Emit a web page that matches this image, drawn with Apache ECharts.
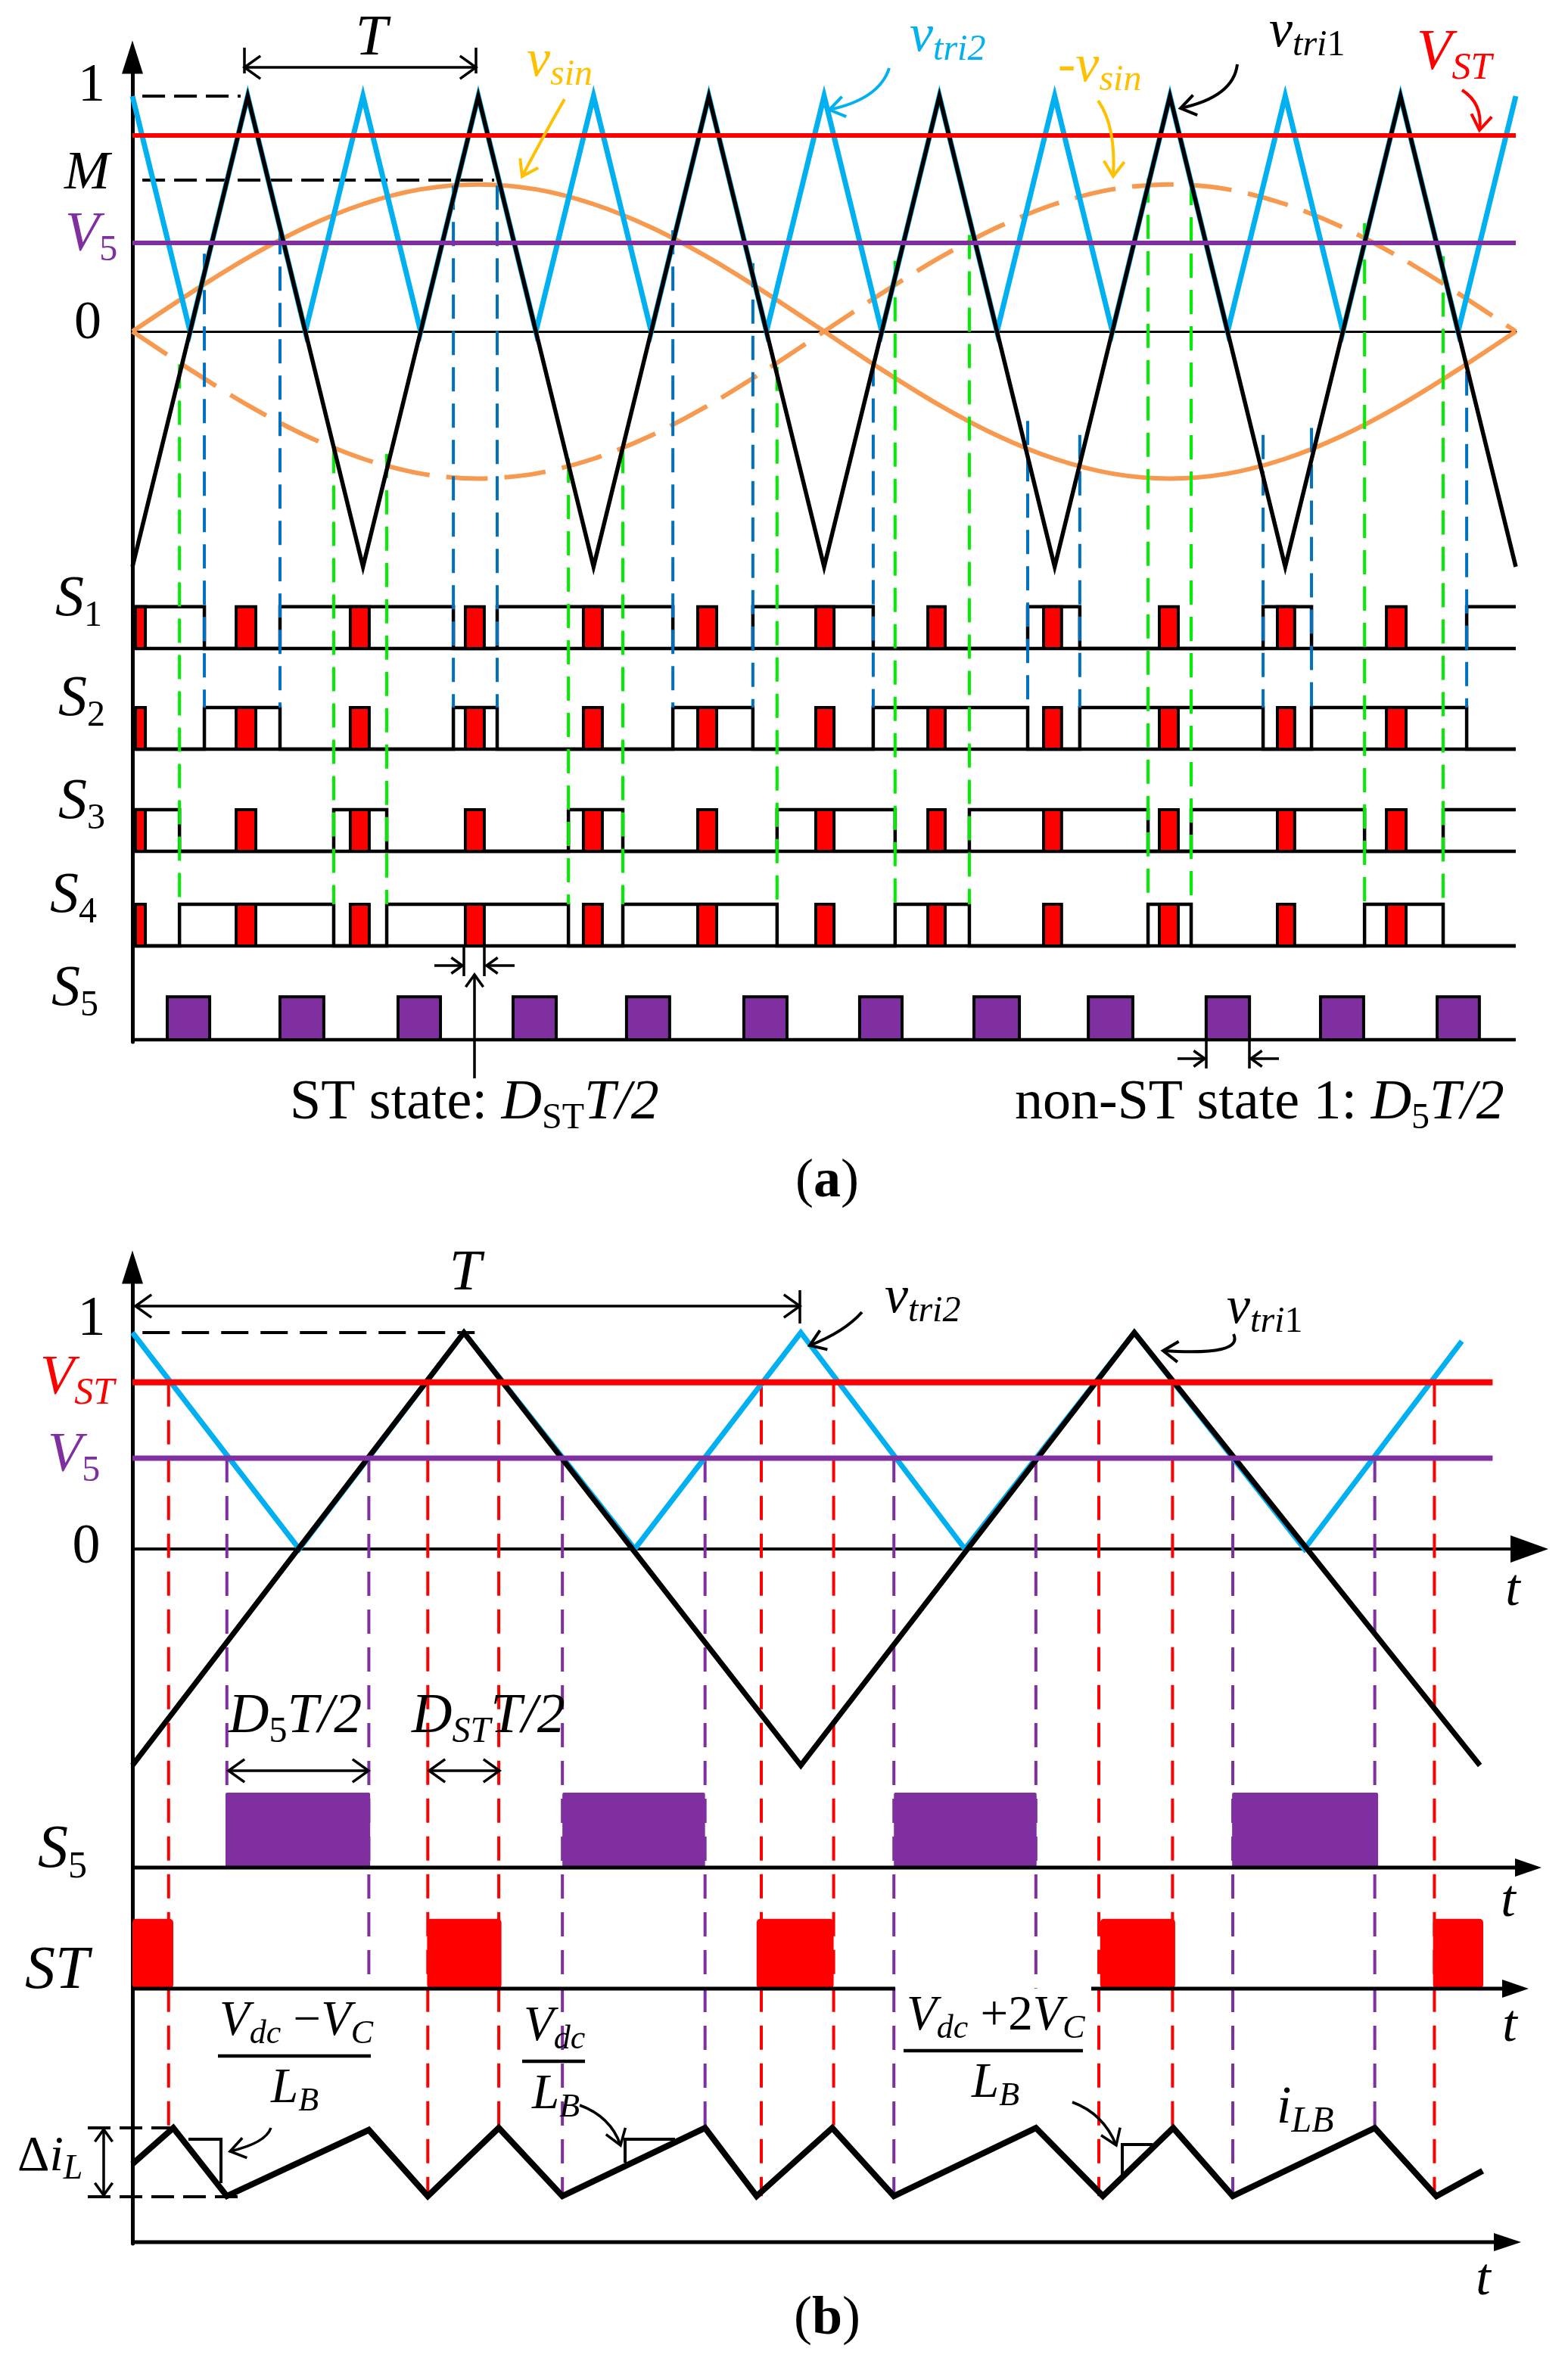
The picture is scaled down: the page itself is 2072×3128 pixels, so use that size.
<!DOCTYPE html>
<html><head><meta charset="utf-8">
<script src="https://cdn.jsdelivr.net/npm/echarts@6/dist/echarts.min.js"></script>
<style>html,body{margin:0;padding:0;background:#fff}#c{width:2072px;height:3128px}</style>
</head><body><div id="c"></div>
<script>
// ================= DATA : panel (a) (time in carrier periods T) =================
const TRI1_T = [0,0.5,1,1.5,2,2.5,3,3.5,4,4.5,5,5.5,6];
const TRI1_V = [-1,1,-1,1,-1,1,-1,1,-1,1,-1,1,-1];
const TRI2_T = [0,0.25,0.5,0.75,1,1.25,1.5,1.75,2,2.25,2.5,2.75,3,3.25,3.5,3.75,4,4.25,4.5,4.75,5,5.25,5.5,5.75,6];
const TRI2_V = [1,0,1,0,1,0,1,0,1,0,1,0,1,0,1,0,1,0,1,0,1,0,1,0,1];
const SIN_T  = [0,0.25,0.5,0.75,1,1.25,1.5,1.75,2,2.25,2.5,2.75,3,3.25,3.5,3.75,4,4.25,4.5,4.75,5,5.25,5.5,5.75,6];
const VSIN   = [0,0.162,0.313,0.442,0.541,0.604,0.625,0.604,0.541,0.442,0.313,0.162,0,-0.162,-0.313,-0.442,-0.541,-0.604,-0.625,-0.604,-0.541,-0.442,-0.313,-0.162,0];
const NVSIN  = [0,-0.162,-0.313,-0.442,-0.541,-0.604,-0.625,-0.604,-0.541,-0.442,-0.313,-0.162,0,0.162,0.313,0.442,0.541,0.604,0.625,0.604,0.541,0.442,0.313,0.162,0];
const VST_A = 0.833, V5_A = 0.376, M_A = 0.643;
// switching edges (S1 / S2 complementary, S3 / S4 complementary)
const S1_EDGES = [0.312,0.640,1.392,1.582,2.344,2.691,3.213,3.883,4.109,4.904,5.114,5.787];
const S1_START = 1, S2_START = 0;
const S3_EDGES = [0.204,0.873,1.103,1.891,2.127,2.796,3.308,3.630,4.405,4.592,5.344,5.685];
const S3_START = 1, S4_START = 0;
// shoot-through pulses (red) and S5 pulses (purple)
const ST_ON_A  = [0.013,0.450,0.945,1.444,1.956,2.452,2.964,3.450,3.952,4.454,4.966,5.439];
const ST_OFF_A = [0.056,0.535,1.027,1.526,2.038,2.534,3.043,3.525,4.030,4.536,5.041,5.524];
const S5_ON_A  = [0.151,0.640,1.152,1.651,2.143,2.652,3.154,3.650,4.146,4.657,5.153,5.659];
const S5_OFF_A = [0.335,0.830,1.336,1.838,2.330,2.839,3.338,3.847,4.339,4.845,5.340,5.842];
// start level of the projection lines (blue at S1 edges, green at S3 edges)
const BLUE_TOP  = [0.33,0.43,0.62,0.62,0.43,0.29,-0.13,-0.38,-0.44,-0.44,-0.41,-0.17];
const GREEN_TOP = [-0.14,-0.50,-0.52,-0.54,-0.50,-0.15,0.30,0.41,0.65,0.64,0.46,0.32];

// ================= DATA : panel (b) =================
const TRI1_B_T = [0,0.495,0.998,1.496,2.012];
const TRI1_B_V = [-1,1,-1,1,-1];
const TRI2_B_T = [0,0.249,0.495,0.750,0.998,1.243,1.496,1.750,1.985];
const TRI2_B_V = [1,0,1,0,1,0,1,0,0.96];
const VST_B = 0.77, V5_B = 0.42;
const RED_B_T = [0.054,0.441,0.547,0.939,1.047,1.443,1.553,1.944];
const PUR_B_T = [0.141,0.353,0.642,0.855,1.137,1.349,1.643,1.855];
const PUR_B_END = ['S5','ST','I','I','I','ST','I','I'];
const S5_ON_B  = [0.139,0.642,1.137,1.642];
const S5_OFF_B = [0.355,0.855,1.350,1.860];
const ST_ON_B  = [0,0.440,0.932,1.445,1.942];
const ST_OFF_B = [0.061,0.551,1.047,1.557,2.017];
const ILB_T = [0,0.061,0.141,0.353,0.441,0.547,0.642,0.855,0.932,1.045,1.137,1.349,1.449,1.554,1.643,1.855,1.947,2.016];
const ILB_V = [0.47,1,0,0.97,0,1,0,1,0,1,0,1,0,1,0,1,0,0.37];

// ================= LAYOUT / STYLE =================
const ORANGE='#F79A50', YEL='#FFC000', BLUE='#00B0F0', DBLUE='#0070C0', GREEN='#00EE00', RED='#FF0000', PUR='#7F2FA0';
const FF='"Liberation Serif","Times New Roman",serif';
const LA = {left:175, top:75.5, bottom:1377, zero:438, unit:311, tMax:6};
const LB = {left:175, top:1674.5, bottom:2965, zero:2047, unit:286, tMax:2.0859};
[LA, LB].forEach(L => { L.yMax=(L.zero-L.top)/L.unit; L.yMin=(L.zero-L.bottom)/L.unit; L.w=(L===LA?1828:1846); });
const ROWS_A = [{base:-1.347,amp:0.177},{base:-1.775,amp:0.177},{base:-2.209,amp:0.177},{base:-2.611,amp:0.177},{base:-3.010,amp:0.183}];
const ROWS_B = {S5:{base:-1.472,amp:0.346}, ST:{base:-2.031,amp:0.322}, I:{base:-2.990,amp:0.315}};
const REF_A = [[0.043,0.469,1],[0.043,1.569,M_A]];
const REF_B = [[0.015,0.511,1]];

const zip = (ts, vs) => ts.map((t,i)=>[t, vs[i]]);
function lineS(ax, data, color, width, z, extra){
  return Object.assign({type:'line', xAxisIndex:ax, yAxisIndex:ax, data, symbol:'none', silent:true, z,
    animation:false, lineStyle:{color, width, cap:'butt', join:'miter'}}, extra||{});
}
function stepData(edges, start, row, tEnd){
  const lv = s => row.base + s*row.amp;
  const d=[[0, lv(start)]]; let s=start;
  edges.forEach(e => { s=1-s; d.push([e, lv(s)]); });
  d.push([tEnd, lv(s)]);
  return d;
}
function vDash(ax, data, color, dash, z){
  return {type:'custom', coordinateSystem:'cartesian2d', xAxisIndex:ax, yAxisIndex:ax, silent:true, z, animation:false,
    data, renderItem:(p, api) => {
      const a = api.coord([api.value(0), api.value(1)]), b = api.coord([api.value(0), api.value(2)]);
      return {type:'line', shape:{x1:a[0],y1:a[1],x2:b[0],y2:b[1]}, style:{stroke:color, lineWidth:4, lineDash:dash}};
    }};
}
function hDash(ax, data, dash){
  return {type:'custom', coordinateSystem:'cartesian2d', xAxisIndex:ax, yAxisIndex:ax, silent:true, z:4, animation:false,
    data, renderItem:(p, api) => {
      const a = api.coord([api.value(0), api.value(2)]), b = api.coord([api.value(1), api.value(2)]);
      return {type:'line', shape:{x1:a[0],y1:a[1],x2:b[0],y2:b[1]}, style:{stroke:'#000', lineWidth:4, lineDash:dash}};
    }};
}
function boxes(ax, data, rowsFn, fill, stroke, r, z){
  return {type:'custom', coordinateSystem:'cartesian2d', xAxisIndex:ax, yAxisIndex:ax, silent:true, z, animation:false,
    data, renderItem:(p, api) => {
      const row = rowsFn(api.value(2));
      const a = api.coord([api.value(0), row.base+row.amp]), b = api.coord([api.value(1), row.base]);
      return {type:'rect', shape:{x:a[0], y:a[1], width:b[0]-a[0], height:b[1]-a[1], r:r||0},
        style: stroke ? {fill, stroke, lineWidth:4} : {fill}};
    }};
}

const series = [];
// ---- panel (a)
series.push(lineS(0, zip(SIN_T, VSIN), ORANGE, 6, 3, {smooth:0.3}));
series.push(lineS(0, zip(SIN_T, NVSIN), ORANGE, 6, 3, {smooth:0.3, lineStyle:{color:ORANGE, width:6, type:[55,22]}}));
series.push(vDash(0, S1_EDGES.map((t,i)=>[t, BLUE_TOP[i], ROWS_A[1].base+ROWS_A[1].amp]), DBLUE, [32,16], 4));
series.push(vDash(0, S3_EDGES.map((t,i)=>[t, GREEN_TOP[i], ROWS_A[3].base+ROWS_A[3].amp]), GREEN, [32,16], 4));
series.push(lineS(0, zip(TRI2_T, TRI2_V), BLUE, 7, 5));
series.push(lineS(0, zip(TRI1_T, TRI1_V), '#000', 5.5, 6));
series.push(lineS(0, [[0,VST_A],[6,VST_A]], RED, 6, 7));
series.push(lineS(0, [[0,V5_A],[6,V5_A]], PUR, 6, 7));
series.push(hDash(0, REF_A, [30,12]));
ROWS_A.forEach(r => series.push(lineS(0, [[0,r.base],[6,r.base]], '#000', 4.5, 2)));
series.push(lineS(0, stepData(S1_EDGES, S1_START, ROWS_A[0], 6), '#000', 4.5, 2, {step:'end'}));
series.push(lineS(0, stepData(S1_EDGES, S2_START, ROWS_A[1], 6), '#000', 4.5, 2, {step:'end'}));
series.push(lineS(0, stepData(S3_EDGES, S3_START, ROWS_A[2], 6), '#000', 4.5, 2, {step:'end'}));
series.push(lineS(0, stepData(S3_EDGES, S4_START, ROWS_A[3], 6), '#000', 4.5, 2, {step:'end'}));
const stA = [];
[0,1,2,3].forEach(r => ST_ON_A.forEach((t,i) => stA.push([t, ST_OFF_A[i], r])));
series.push(boxes(0, stA, k => ROWS_A[k], RED, '#000', 0, 3));
series.push(boxes(0, S5_ON_A.map((t,i)=>[t, S5_OFF_A[i], 4]), k => ROWS_A[k], PUR, '#000', 0, 3));

// ---- panel (b)
const ilbY = v => ROWS_B.I.base + v*ROWS_B.I.amp;
const nearestIlb = t => { let bi=0; ILB_T.forEach((x,i)=>{ if (Math.abs(x-t) < Math.abs(ILB_T[bi]-t)) bi=i; }); return ILB_V[bi]; };
series.push(vDash(1, RED_B_T.map(t => [t, VST_B, ilbY(nearestIlb(t))]), RED, [32,18], 4));
series.push(vDash(1, PUR_B_T.map((t,i) => {
  const e = PUR_B_END[i];
  const end = e==='S5' ? ROWS_B.S5.base+ROWS_B.S5.amp : e==='ST' ? ROWS_B.ST.base : ilbY(nearestIlb(t));
  return [t, V5_B, end];
}), PUR, [32,18], 4));
series.push(boxes(1, S5_ON_B.map((t,i)=>[t, S5_OFF_B[i], 0]), () => ROWS_B.S5, PUR, null, 2, 5));
series.push(boxes(1, ST_ON_B.map((t,i)=>[t, ST_OFF_B[i], 0]), () => ROWS_B.ST, RED, null, 5, 5));
series.push(lineS(1, zip(TRI2_B_T, TRI2_B_V), BLUE, 7, 5));
series.push(lineS(1, zip(TRI1_B_T, TRI1_B_V), '#000', 7, 6));
series.push(lineS(1, [[0,VST_B],[2.031,VST_B]], RED, 8, 7));
series.push(lineS(1, [[0,V5_B],[2.031,V5_B]], PUR, 7, 7));
series.push(hDash(1, REF_B, [36,16]));
series.push(lineS(1, zip(ILB_T, ILB_V.map(ilbY)), '#000', 8, 6));

// ================= ANNOTATIONS (graphic) =================
const G = [];
const ln = (x1,y1,x2,y2,c,w,dash) => G.push({type:'line', z:100, shape:{x1,y1,x2,y2}, style:Object.assign({stroke:c||'#000', lineWidth:w||3.5}, dash?{lineDash:dash}:{})});
function hd(x,y,dx,dy,c,w,L,ang){
  L=L||26; ang=ang||0.62; const n=Math.hypot(dx,dy), ux=dx/n, uy=dy/n, co=Math.cos(ang), si=Math.sin(ang);
  const b1=[-(ux*co-uy*si), -(ux*si+uy*co)], b2=[-(ux*co+uy*si), -(-ux*si+uy*co)];
  G.push({type:'polyline', z:100, shape:{points:[[x+b1[0]*L,y+b1[1]*L],[x,y],[x+b2[0]*L,y+b2[1]*L]]}, style:{stroke:c||'#000', lineWidth:w||3.5, fill:null}});
}
const arr = (x1,y1,x2,y2,c,w,L) => { ln(x1,y1,x2,y2,c,w); hd(x2,y2,x2-x1,y2-y1,c,w,L); };
const dbl = (x1,y1,x2,y2,c,w,L) => { ln(x1,y1,x2,y2,c,w); hd(x2,y2,x2-x1,y2-y1,c,w,L); hd(x1,y1,x1-x2,y1-y2,c,w,L); };
function curve(sx,sy,cx,cy,ex,ey,c,w){
  G.push({type:'bezierCurve', z:100, shape:{x1:sx,y1:sy,x2:ex,y2:ey,cpx1:cx,cpy1:cy}, style:{stroke:c, lineWidth:w||3.5, fill:null}});
  hd(ex,ey,ex-cx,ey-cy,c,w||3.5,24,0.6);
}
const tri = (tip,y,L,H) => G.push({type:'polygon', z:100, shape:{points:[[tip,y],[tip-L,y-H],[tip-L,y+H]]}, style:{fill:'#000'}});
const poly = (pts,w) => G.push({type:'polyline', z:100, shape:{points:pts}, style:{stroke:'#000', lineWidth:w||4, fill:null}});
const sg = (t,size,o) => Object.assign({t,size}, o||{});
function TX(x,y,segs,align){
  let main=0; segs.forEach(s=>{ if(!s.sub) main=Math.max(main,s.size); }); if(!main) main=segs[0].size;
  const LH=Math.round(main*1.18), rich={}; let text='';
  segs.forEach((s,i)=>{ const k='k'+i;
    rich[k]={font:(s.it?'italic ':'')+(s.bold?'bold ':'')+s.size+'px '+FF, fill:s.c||'#000', lineHeight:s.sub?s.size:LH, verticalAlign:s.sub?'bottom':'middle'};
    text+='{'+k+'|'+s.t+'}'; });
  const a=align||'left';
  G.push({type:'text', z:110, x, y, style:{text, rich, fill:'#000', align:a, verticalAlign:'middle', textAlign:a, textVerticalAlign:'middle'}});
}
const IT={it:1}, SUB={sub:1}, ITS={it:1,sub:1};
const C=(c,o)=>Object.assign({c},o||{});

// ---- panel (a) labels
TX(121,114,[sg('1',72)],'center');
TX(115,230,[sg('M',72,IT)],'center');
TX(86,312,[sg('V',74,C(PUR,IT)),sg('5',48,C(PUR,SUB))]);
TX(116,428,[sg('0',72)],'center');
[[73,793,'1'],[77,925,'2'],[77,1061,'3'],[66,1185,'4'],[68,1308,'5']].forEach(s => TX(s[0],s[1],[sg('S',76,IT),sg(s[2],48,SUB)]));
TX(491,52,[sg('T',76,IT)],'center');
dbl(323,89,629,89); ln(323,63,323,97); ln(629,63,629,97);
TX(696,82,[sg('v',70,C(YEL,IT)),sg('sin',48,C(YEL,ITS))]);
curve(746,131,720,176,690,233,YEL,4);
TX(1202,49,[sg('v',70,C(BLUE,IT)),sg('tri2',48,C(BLUE,ITS))]);
curve(1175,90,1162,131,1096,145,BLUE,4);
TX(1398,89,[sg('-v',70,C(YEL,IT)),sg('sin',48,C(YEL,ITS))]);
curve(1451,133,1475,167,1471,233,YEL,4);
TX(1677,43,[sg('v',70,IT),sg('tri',48,ITS),sg('1',48,SUB)]);
curve(1635,85,1630,128,1560,143,'#000',4);
TX(1872,71,[sg('V',76,C(RED,IT)),sg('ST',50,C(RED,ITS))]);
curve(1932,119,1960,137,1955,172,RED,4);
// ST width markers
ln(613,1250,613,1290); ln(640,1250,640,1290);
arr(574,1276,611,1276,'#000',3.5,18); arr(680,1276,643,1276,'#000',3.5,18);
arr(627,1425,627,1288,'#000',3.5,20);
TX(383,1459,[sg('ST state: ',74),sg('D',74,IT),sg('ST',48,SUB),sg('T/2',74,IT)]);
// non-ST markers
ln(1594,1376,1594,1412); ln(1651,1376,1651,1412);
arr(1556,1399,1592,1399,'#000',3.5,18); arr(1690,1399,1653,1399,'#000',3.5,18);
TX(1341,1459,[sg('non-ST state 1: ',74),sg('D',74,IT),sg('5',48,SUB),sg('T/2',74,IT)]);
TX(1093,1562,[sg('(',72),sg('a',72,{bold:1}),sg(')',72)],'center');

// ---- panel (b) labels
TX(121,1745,[sg('1',74)],'center');
TX(53,1823,[sg('V',74,C(RED,IT)),sg('ST',50,C(RED,ITS))]);
TX(63,1925,[sg('V',74,C(PUR,IT)),sg('5',48,C(PUR,SUB))]);
TX(114,2046,[sg('0',74)],'center');
TX(615,1684,[sg('T',76,IT)],'center');
dbl(179,1726,1057,1726); ln(1057,1705,1057,1749);
TX(1169,1716,[sg('v',70,IT),sg('tri2',48,ITS)]);
curve(1139,1734,1116,1760,1070,1778,'#000',4);
TX(1621,1730,[sg('v',70,IT),sg('tri',48,ITS),sg('1',48,SUB)]);
curve(1630,1763,1644,1792,1537,1785,'#000',4);
TX(1999,2103,[sg('t',70,IT)],'center');
TX(302,2270,[sg('D',74,IT),sg('5',48,SUB),sg('T/2',74,IT)]);
TX(544,2270,[sg('D',74,IT),sg('ST',48,ITS),sg('T/2',74,IT)]);
dbl(302,2340,487,2340); dbl(567,2340,660,2340);
TX(50,2446,[sg('S',80,IT),sg('5',50,SUB)]);
TX(33,2606,[sg('ST',80,IT)]);
// extra time axes of panel (b)
ln(175,2468,2005,2468,'#000',5); tri(2037,2468,35,12);
TX(1993,2514,[sg('t',70,IT)],'center');
ln(175,2628,1183,2628,'#000',5); ln(1442,2628,1988,2628,'#000',5); tri(2020,2628,35,12);
TX(1995,2679,[sg('t',70,IT)],'center');
ln(175,2963,1977,2963,'#000',5); tri(2010,2963,36,12);
TX(1960,3014,[sg('t',70,IT)],'center');
// slope fractions
TX(290,2672,[sg('V',65,IT),sg('dc',44,ITS),sg(' \u2212',65),sg('V',65,IT),sg('C',44,ITS)]);
ln(288,2717,490,2717,'#000',4.5);
TX(358,2761,[sg('L',65,IT),sg('B',44,ITS)]);
curve(358,2812,351,2832,304,2843,'#000',3.5);
TX(692,2679,[sg('V',65,IT),sg('dc',44,ITS)]);
ln(690,2724,773,2724,'#000',4.5);
TX(703,2769,[sg('L',65,IT),sg('B',44,ITS)]);
curve(766,2782,807,2797,820,2835,'#000',3.5);
TX(1198,2665,[sg('V',65,IT),sg('dc',44,ITS),sg(' +2',65),sg('V',65,IT),sg('C',44,ITS)]);
ln(1194,2710,1431,2710,'#000',4.5);
TX(1284,2754,[sg('L',65,IT),sg('B',44,ITS)]);
curve(1417,2778,1458,2793,1475,2835,'#000',3.5);
TX(1687,2787,[sg('i',70,IT),sg('LB',48,ITS)]);
// slope triangles
poly([[249,2827],[292,2827],[292,2885]],4);
poly([[826,2858],[826,2827],[892,2827]],4);
poly([[1483,2875],[1483,2834],[1523,2834]],4);
// ripple marker
ln(116,2812,239,2812,'#000',4,[30,12]); ln(116,2903,318,2903,'#000',4,[30,12]);
dbl(137,2814,137,2901,'#000',3.5,20);
TX(23,2851,[sg('\u0394',66),sg('i',66,IT),sg('L',46,ITS)]);
TX(1093,3065,[sg('(',72),sg('b',72,{bold:1}),sg(')',72)],'center');

// ================= OPTION =================
const hiddenX = (grid, max, line) => ({type:'value', gridIndex:grid, min:0, max, axisTick:{show:false}, axisLabel:{show:false}, splitLine:{show:false}, axisLine:line});
const yAx = (grid, L) => ({type:'value', gridIndex:grid, min:L.yMin, max:L.yMax, axisTick:{show:false}, axisLabel:{show:false}, splitLine:{show:false},
  axisLine:{show:true, onZero:true, symbol:['none','triangle'], symbolSize:[28,44], lineStyle:{color:'#000', width:5}}});
const option = {
  backgroundColor:'#fff', animation:false,
  grid:[{left:LA.left, top:LA.top, width:LA.w, height:LA.bottom-LA.top},
        {left:LB.left, top:LB.top, width:LB.w, height:LB.bottom-LB.top}],
  xAxis:[hiddenX(0, LA.tMax, {show:true, onZero:true, lineStyle:{color:'#000', width:3}}),
         hiddenX(1, LB.tMax, {show:true, onZero:true, symbol:['none','triangle'], symbolSize:[36,50], lineStyle:{color:'#000', width:4}})],
  yAxis:[yAx(0, LA), yAx(1, LB)],
  series,
  graphic:{elements:G}
};
const chart = echarts.init(document.getElementById('c'), null, {renderer:'canvas'});
chart.setOption(option);
</script></body></html>
